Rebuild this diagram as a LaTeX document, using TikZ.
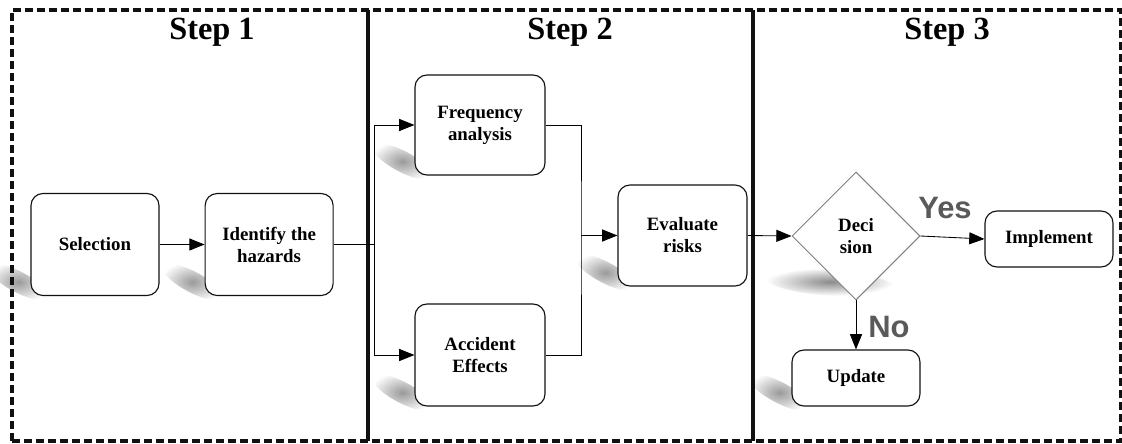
\documentclass[tikz,border=0pt]{standalone}
\usepackage{fontspec}
\setmainfont{Liberation Serif}
\newfontfamily\lblfont{Liberation Sans}
\usepackage{tikz}
\usetikzlibrary{arrows.meta,positioning,calc,shapes.geometric,backgrounds}
\definecolor{framec}{HTML}{111111}
\definecolor{lblgrey}{HTML}{5A5A5A}
\definecolor{diagc}{HTML}{7F7F7F}
\definecolor{shadec}{HTML}{9A9A9A}
% soft shadow at the lower-left corner of a box
\newcommand{\boxshadow}[1]{%
  \path ($(#1.south west)+(-0.3,0.35)$) coordinate (#1-shd);
  \begin{scope}[on background layer,shift={(#1-shd)},rotate=-28]
    \shade[inner color=shadec,outer color=white] (0,0) ellipse (0.85 and 0.26);
  \end{scope}}

\begin{document}
\begin{tikzpicture}[
  stepbox/.style={draw=framec,line width=0.8pt,fill=white,rounded corners=0.3cm,
              minimum width=3.2cm,minimum height=2.55cm,align=center,inner sep=2pt,
              font=\fontsize{13.4}{15.6}\selectfont\bfseries},
  flatbox/.style={stepbox,minimum height=1.4cm},
  decide/.style={diamond,draw=diagc,line width=0.7pt,fill=white,aspect=1,
              minimum width=3.2cm,minimum height=3.2cm,inner sep=0pt,align=center,
              font=\fontsize{13.4}{15.6}\selectfont\bfseries},
  steplbl/.style={font=\fontsize{23}{26}\selectfont\bfseries},
  yn/.style={font=\lblfont\fontsize{22}{26}\selectfont\bfseries,text=lblgrey},
  ar/.style={-{Triangle[length=3.8mm,width=3mm]},line width=0.6pt},
  ln/.style={line width=0.6pt},
]
\useasboundingbox (0,0) rectangle (28.05,11.075);

% frame and columns
\draw[framec,line width=2.7pt,dash pattern=on 0.2cm off 0.1cm] (0.3,0.05) rectangle (28.02,10.825);
\draw[framec,line width=2.7pt] (9.2,0.05) -- (9.2,10.825);
\draw[framec,line width=2.7pt] (18.825,0.05) -- (18.825,10.825);

\node[steplbl] (s1) at (5.3,10.275) {Step 1};
\node[steplbl] (s2) at (14.25,10.275) {Step 2};
\node[steplbl] (s3) at (23.675,10.275) {Step 3};

% step 1
\node[stepbox] (sel) at (2.375,4.9625) {Selection};
\node[stepbox,right=1.125cm of sel] (idf) {Identify the\\hazards};
\draw[ar] (sel) -- (idf);

% step 2
\node[stepbox,minimum width=3.25cm,minimum height=2.5cm] (freq) at (12.0,7.95) {Frequency\\analysis};
\node[stepbox,minimum width=3.25cm] (acc) at (12.0,2.2) {Accident\\Effects};
\node[stepbox,minimum width=3.225cm,minimum height=2.525cm] (eval) at (17.0625,5.1875) {Evaluate\\risks};
\coordinate (split) at (9.35,4.9625);
\coordinate (merge) at (14.525,5.1875);
\draw[ln] (idf.east) -- (split);
\draw[ar] (split) |- (freq.west);
\draw[ar] (split) |- (acc.west);
\draw[ln] (freq.east) -| (merge) |- (acc.east);
\draw[ar] (merge) -- (eval.west);

% step 3
\node[decide] (dec) at (21.4,5.175) {Deci\\sion};
\node[flatbox] (impl) at (26.225,5.1) {Implement};
\node[flatbox] (upd) at (21.4,1.625) {Update};
\draw[ar] (eval.east) -- (dec.west);
\draw[ar] (dec.east) -- (impl.west);
\draw[ar] (dec.south) -- (upd.north);
\node[yn] (yes) at (23.625,5.875) {Yes};
\node[yn] (no) at (22.225,2.9) {No};

% shadows
\boxshadow{sel}
\boxshadow{idf}
\boxshadow{freq}
\boxshadow{acc}
\boxshadow{eval}
\boxshadow{upd}
\path (20.75,4.0) coordinate (dec-shd);
\begin{scope}[on background layer,shift={(dec-shd)},rotate=-4]
  \shade[inner color=shadec!90!black,outer color=white] (0,0) ellipse (1.6 and 0.32);
\end{scope}
\end{tikzpicture}
\end{document}
